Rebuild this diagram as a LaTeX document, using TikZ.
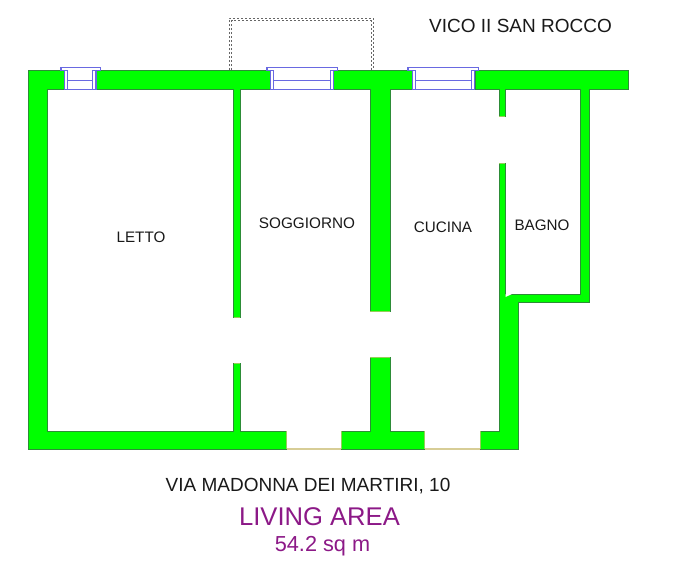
\documentclass[tikz,border=0pt]{standalone}
\usepackage{fontspec}
\setmainfont{Liberation Sans}
\definecolor{wallfill}{RGB}{0,255,0}
\definecolor{walledge}{RGB}{45,140,55}
\definecolor{winblue}{RGB}{105,105,225}
\definecolor{thresh}{RGB}{215,205,150}
\definecolor{capedge}{RGB}{150,205,90}
\definecolor{labelpurple}{RGB}{140,25,135}
\definecolor{labelgrey}{RGB}{25,25,25}
\tikzset{
  wall/.style={fill=wallfill,draw=walledge,line width=1pt,line join=miter},
  wallcap/.style={draw=capedge,line width=1pt},
  win/.style={draw=winblue,line width=1.1pt},
  balcony/.style={draw=black!60,line width=1pt,dash pattern=on 2.2pt off 1.8pt},
  threshold/.style={draw=thresh,line width=1.1pt},
  toplabel/.style={text=labelgrey,inner sep=0pt,anchor=center}
}
\begin{document}
\begin{tikzpicture}[x=1pt,y=-1pt]
\useasboundingbox[fill=white] (0,0) rectangle (700,566);
% balcony
\draw[balcony] (229,70) -- (229,18) -- (373.5,18) -- (373.5,70);
\draw[balcony] (231.5,70) -- (231.5,20.5) -- (371,20.5) -- (371,70);
% thresholds
\draw[threshold] (286.7,449) -- (341.7,449);
\draw[threshold] (424.7,449) -- (480.3,449);
% walls
\draw[wall] (28,70.5) -- (64.7,70.5) -- (64.7,89.5) -- (47,89.5) -- (47,431) -- (233.5,431) -- (233.5,363) -- (240,363) -- (240,431) -- (286.7,431) -- (286.7,449) -- (28,449) -- cycle;
\draw[wall] (96,70.5) -- (270.7,70.5) -- (270.7,89.5) -- (240,89.5) -- (240,317) -- (233.5,317) -- (233.5,89.5) -- (96,89.5) -- cycle;
\draw[wall] (333,70.5) -- (412.7,70.5) -- (412.7,89.5) -- (390,89.5) -- (390,311) -- (370,311) -- (370,89.5) -- (333,89.5) -- cycle;
\draw[wall] (341.7,449) -- (341.7,431) -- (370,431) -- (370,357) -- (390,357) -- (390,431) -- (424.7,431) -- (424.7,449) -- cycle;
\draw[wall] (475,70.5) -- (628.7,70.5) -- (628.7,89.5) -- (589.3,89.5) -- (589.3,302.7) -- (518.7,302.7) -- (518.7,449) -- (480.3,449) -- (480.3,431) -- (499.3,431) -- (499.3,163) -- (505.3,163) -- (505.3,294) -- (580.3,294) -- (580.3,89.5) -- (505.3,89.5) -- (505.3,116) -- (499.3,116) -- (499.3,89.5) -- (475,89.5) -- cycle;
\fill[white] (505.5,294) -- (512,294) -- (505.5,297) -- cycle;
% light caps on the wall ends at the openings
\draw[wallcap] (233.5,317) -- (240,317);
\draw[wallcap] (233.5,363) -- (240,363);
\draw[wallcap] (370,311) -- (390,311);
\draw[wallcap] (370,357) -- (390,357);
\draw[wallcap] (499.3,116) -- (505.3,116);
\draw[wallcap] (499.3,163) -- (505.3,163);
\draw[wallcap] (286.7,431) -- (286.7,449);
\draw[wallcap] (341.7,431) -- (341.7,449);
\draw[wallcap] (424.7,431) -- (424.7,449);
\draw[wallcap] (480.3,431) -- (480.3,449);
% windows: flange left, flange right, jamb left, inner left, inner right, jamb right
\foreach \fl/\fr/\jl/\il/\ir/\jr in {61/100.3/64.7/67.7/92.7/96, 267/337.3/270.7/273.7/330.3/333.3, 408/478.7/412.7/415.7/471.7/474.7}{
  \draw[win] (\il,70.4) -- (\jl,70.4) -- (\fl,70.4) -- (\fl,67.6) -- (\fr,67.6) -- (\fr,70.4) -- (\ir,70.4);
  \draw[win] (\jl,70.4) -- (\jl,89.5) -- (\jr,89.5) -- (\jr,70.4);
  \draw[win] (\il,70.4) -- (\il,89.5);
  \draw[win] (\ir,70.4) -- (\ir,89.5);
  \draw[win] (\il,80.5) -- (\ir,80.5);
}
% labels
\node[toplabel,font=\fontsize{19}{19}\selectfont] (vico) at (520.5,26) {VICO II SAN ROCCO};
\node[toplabel,font=\fontsize{15.2}{15}\selectfont] (letto) at (141,237.5) {LETTO};
\node[toplabel,font=\fontsize{15.3}{15}\selectfont] (soggiorno) at (307,223.5) {SOGGIORNO};
\node[toplabel,font=\fontsize{15.2}{15}\selectfont] (cucina) at (443,227.5) {CUCINA};
\node[toplabel,font=\fontsize{15.2}{15}\selectfont] (bagno) at (542,225.5) {BAGNO};
\node[toplabel,font=\fontsize{19}{19}\selectfont] (via) at (308,486) {VIA MADONNA DEI MARTIRI, 10};
\node[toplabel,text=labelpurple,font=\fontsize{25.6}{26}\selectfont] (living) at (319.5,516.5) {LIVING AREA};
\node[toplabel,text=labelpurple,font=\fontsize{21.7}{22}\selectfont] (area) at (322.5,546) {54.2 sq m};
\end{tikzpicture}
\end{document}
